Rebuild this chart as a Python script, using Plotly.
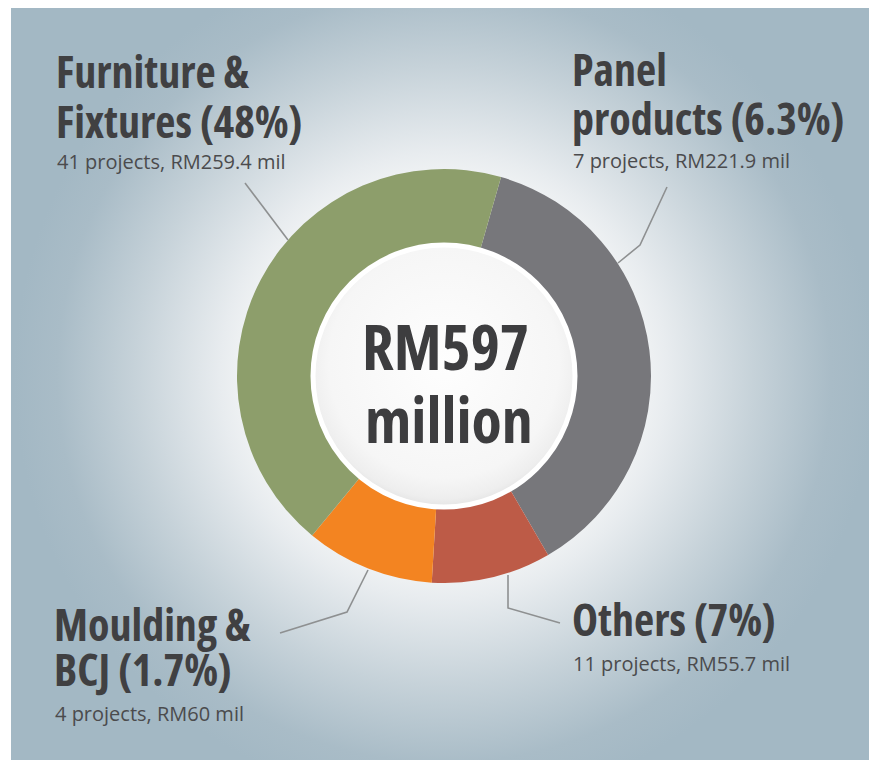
import base64
import plotly.graph_objects as go

# ---------------- data ----------------
categories = ["Panel products", "Others", "Moulding & BCJ", "Furniture & Fixtures"]
values = [221.9, 55.7, 60.0, 259.4]          # RM mil
projects = [7, 11, 4, 41]
pct_labels = ["6.3%", "7%", "1.7%", "48%"]
colors = ["#77777b", "#bd5b47", "#f38421", "#8d9e6b"]
total_text = ["RM597", "million"]

W, H = 877, 760
OFF = 8                      # page body margin
CX, CY, R = 444, 376, 207    # screen px
HOLE_R = 134


def px(x):
    return (x - OFF) / W


def py(y):
    return 1 - (y - OFF) / H


def svg_uri(svg):
    return "data:image/svg+xml;base64," + base64.b64encode(svg.encode()).decode()


# background radial gradient (screen x 11.., y 8..)
bx0, by0 = 11, 8
bw, bh = W + OFF - bx0 + 10, H + OFF - by0 + 10
bg_svg = f"""<svg xmlns='http://www.w3.org/2000/svg' width='{bw}' height='{bh}' viewBox='0 0 {bw} {bh}' preserveAspectRatio='none'>
<defs><radialGradient id='g' gradientUnits='userSpaceOnUse' cx='{CX-bx0}' cy='{CY-by0}' r='430'>
<stop offset='0' stop-color='#ffffff'/>
<stop offset='0.45' stop-color='#f2f4f5'/>
<stop offset='0.52' stop-color='#e8ecef'/>
<stop offset='0.72' stop-color='#c6d2d9'/>
<stop offset='0.9' stop-color='#a9bcc7'/>
<stop offset='1' stop-color='#a3b8c4'/>
</radialGradient></defs>
<rect x='0' y='0' width='{bw}' height='{bh}' fill='url(#g)'/>
</svg>"""

# inner circle
d = 2 * HOLE_R
in_svg = f"""<svg xmlns='http://www.w3.org/2000/svg' width='{d}' height='{d}' viewBox='0 0 {d} {d}'>
<defs><radialGradient id='c' cx='0.5' cy='0.45' r='0.55'>
<stop offset='0' stop-color='#fefefe'/>
<stop offset='0.8' stop-color='#f6f6f6'/>
<stop offset='0.94' stop-color='#eeeeee'/>
<stop offset='1' stop-color='#e4e4e4'/>
</radialGradient></defs>
<circle cx='{HOLE_R}' cy='{HOLE_R}' r='{HOLE_R-3}' fill='url(#c)' stroke='#ffffff' stroke-width='5'/>
</svg>"""

fig = go.Figure()
fig.add_trace(go.Pie(
    labels=categories,
    values=values,
    sort=False,
    direction="clockwise",
    rotation=16,
    hole=0.64,
    marker=dict(colors=colors, line=dict(width=0)),
    textinfo="none",
    hoverinfo="label+value",
    showlegend=False,
    domain=dict(x=[px(CX - R), px(CX + R)], y=[py(CY + R), py(CY - R)]),
))

images = [
    dict(source=svg_uri(bg_svg), xref="paper", yref="paper", x=px(bx0), y=py(by0),
         sizex=bw / W, sizey=bh / H, sizing="stretch", xanchor="left", yanchor="top",
         layer="below"),
    dict(source=svg_uri(in_svg), xref="paper", yref="paper", x=px(CX - HOLE_R), y=py(CY - HOLE_R),
         sizex=d / W, sizey=d / H, sizing="stretch", xanchor="left", yanchor="top",
         layer="above"),
]

FONT = "Open Sans, Roboto, sans-serif"
HEAD_COLOR = "#404042"
SUB_COLOR = "#4b4b4d"
HS, SS = 44, 20

annotations = []


def add_text(text, x, baseline, size, bold, color, xanchor="left"):
    if bold:
        t = f"<span style='font-stretch:condensed'><b>{text}</b></span>"
    else:
        t = text
    ymid = baseline - 0.388 * size
    annotations.append(dict(text=t, x=px(x), y=py(ymid), xref="paper", yref="paper",
                            xanchor=xanchor, yanchor="middle", showarrow=False, borderpad=0,
                            font=dict(family=FONT, size=size, color=color)))


# label blocks: (heading lines, x, baselines incl. subtitle)
blocks = {
    "Furniture & Fixtures": (["Furniture &", f"Fixtures ({pct_labels[3]})"], 55, [88, 138, 169]),
    "Panel products": (["Panel", f"products ({pct_labels[0]})"], 571, [86, 135, 168]),
    "Moulding & BCJ": (["Moulding &", f"BCJ ({pct_labels[2]})"], 53, [641, 686, 721]),
    "Others": ([f"Others ({pct_labels[1]})"], 571, [636, 671]),
}
for i, cat in enumerate(categories):
    lines, x, ys = blocks[cat]
    for ln, yy in zip(lines, ys):
        add_text(ln, x, yy, HS, True, HEAD_COLOR)
    add_text(f"{projects[i]} projects, RM{values[i]:g} mil", x + 1, ys[-1], SS, False, SUB_COLOR)

# centre text
add_text(total_text[0], 445, 370, 62, True, "#3d3d3f", xanchor="center")
add_text(total_text[1], 449, 443, 62, True, "#3d3d3f", xanchor="center")

# leader lines (screen px)
leaders = [
    [(245, 183), (288, 240)],
    [(667, 187), (640, 245), (618, 263)],
    [(368, 570), (347, 612), (280, 633)],
    [(508, 575), (508, 608), (560, 623)],
]
shapes = []
for pts in leaders:
    path = "M " + " L ".join(f"{px(x):.5f},{py(y):.5f}" for x, y in pts)
    shapes.append(dict(type="path", path=path, xref="paper", yref="paper",
                       line=dict(color="#8e9091", width=1.6), layer="above"))

fig.update_layout(
    width=W, height=H,
    margin=dict(l=0, r=0, t=0, b=0),
    paper_bgcolor="#ffffff",
    plot_bgcolor="rgba(0,0,0,0)",
    images=images,
    annotations=annotations,
    shapes=shapes,
)

fig.write_html("out.html")
